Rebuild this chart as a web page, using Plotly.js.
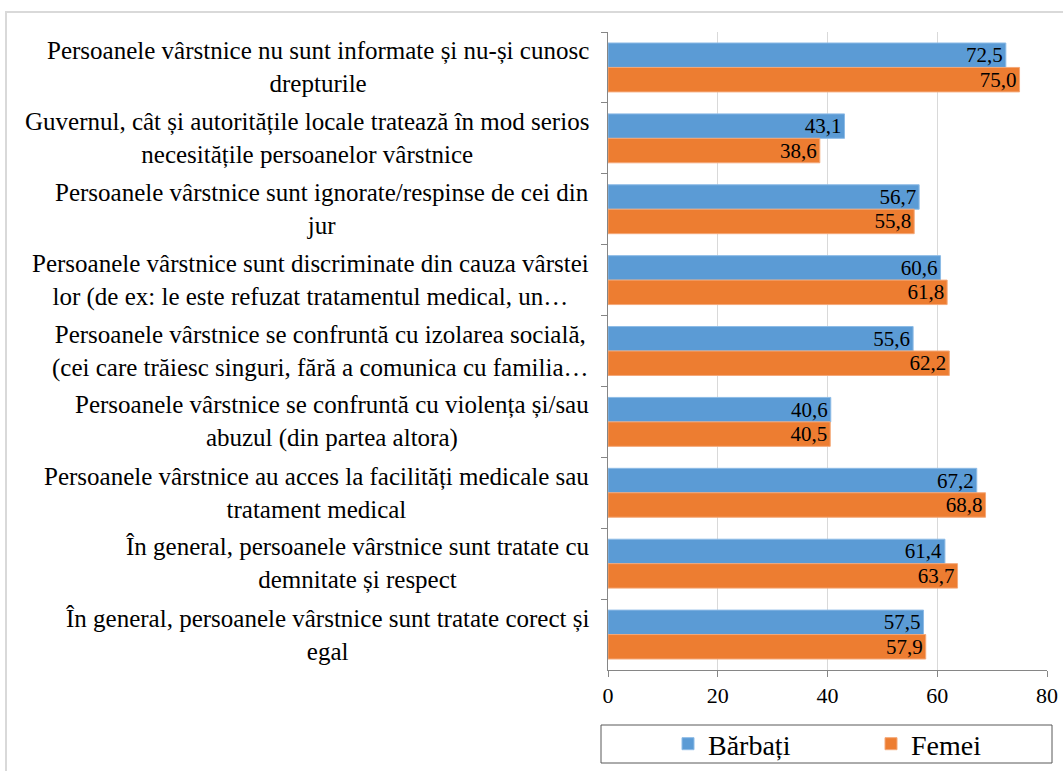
<!DOCTYPE html>
<html>
<head>
<meta charset="utf-8">
<script src="https://cdn.plot.ly/plotly-3.0.1.min.js"></script>
<style>
html,body{margin:0;padding:0;background:#fff;}
#frame{position:absolute;left:5px;top:11px;width:1080px;height:780px;border:2px solid #d9d9d9;box-sizing:border-box;pointer-events:none;}
#chart{position:absolute;left:0;top:0;width:1063px;height:771px;}
</style>
</head>
<body>
<div id="chart"></div>
<div id="frame"></div>
<script>
const categories = [
  "Persoanele vârstnice nu sunt informate și nu-și cunosc<br>drepturile",
  "Guvernul, cât și autoritățile locale tratează în mod serios<br>necesitățile persoanelor vârstnice",
  "Persoanele vârstnice sunt ignorate/respinse de cei din<br>jur",
  "Persoanele vârstnice sunt discriminate din cauza vârstei<br>lor (de ex: le este refuzat tratamentul medical, un…",
  "Persoanele vârstnice se confruntă cu izolarea socială,<br>(cei care trăiesc singuri, fără a comunica cu familia…",
  "Persoanele vârstnice se confruntă cu violența și/sau<br>abuzul (din partea altora)",
  "Persoanele vârstnice au acces la facilități medicale sau<br>tratament medical",
  "În general, persoanele vârstnice sunt tratate cu<br>demnitate și respect",
  "În general, persoanele vârstnice sunt tratate corect și<br>egal"
];
const barbati = [72.5, 43.1, 56.7, 60.6, 55.6, 40.6, 67.2, 61.4, 57.5];
const femei   = [75.0, 38.6, 55.8, 61.8, 62.2, 40.5, 68.8, 63.7, 57.9];
const seriesNames = ["Bărbați", "Femei"];
const xTicks = [0, 20, 40, 60, 80];

const FONT = "Liberation Serif";
const ids = categories.map((c, i) => "c" + i);

const traceCommon = {
  type: "bar",
  orientation: "h",
  textposition: "inside",
  insidetextanchor: "end",
  texttemplate: "%{x:.1f}",
  insidetextfont: {family: FONT, size: 21, color: "#000"},
  constraintext: "none",
  hoverinfo: "none"
};

const data = [
  Object.assign({}, traceCommon, {
    name: seriesNames[0], y: ids, x: barbati,
    marker: {color: "#5b9bd5", line: {color: "#8dbbe6", width: 1}}
  }),
  Object.assign({}, traceCommon, {
    name: seriesNames[1], y: ids, x: femei,
    marker: {color: "#ed7d31", line: {color: "#f4a878", width: 1}}
  })
];

const annotations = categories.map((c, i) => ({
  xref: "paper", yref: "y", x: 0, y: ids[i],
  xanchor: "right", yanchor: "middle", xshift: -17,
  align: "center", showarrow: false,
  text: c,
  font: {family: FONT, size: 25, color: "#000"}
}));

const plotTop = 32, plotBottom = 670, plotLeft = 608, plotRight = 1047;
const ph = plotBottom - plotTop, pw = plotRight - plotLeft;

const layout = {
  width: 1063, height: 771,
  margin: {l: plotLeft, r: 1063 - plotRight, t: plotTop, b: 771 - plotBottom, autoexpand: false},
  paper_bgcolor: "rgba(0,0,0,0)",
  plot_bgcolor: "#fff",
  separators: ",.",
  barmode: "group",
  bargap: 0.31,
  bargroupgap: 0,
  showlegend: true,
  font: {family: FONT, color: "#000"},
  xaxis: {
    range: [0, 80], tickvals: xTicks, ticktext: xTicks.map(String),
    showgrid: true, gridcolor: "#d9d9d9", gridwidth: 1,
    showline: true, linecolor: "#868686", linewidth: 1,
    ticks: "outside", ticklen: 6, tickcolor: "#868686",
    tickfont: {family: FONT, size: 22, color: "#000"},
    zeroline: false, fixedrange: true
  },
  yaxis: {
    type: "category", autorange: "reversed",
    showticklabels: false,
    showline: true, linecolor: "#868686", linewidth: 1,
    ticks: "outside", ticklen: 6, tickcolor: "#868686",
    tickson: "boundaries",
    showgrid: false, zeroline: false, fixedrange: true
  },
  legend: {
    orientation: "h", x: (668 - plotLeft) / pw, xanchor: "left",
    y: (plotBottom - 744) / ph, yanchor: "middle",
    borderwidth: 0,
    font: {family: FONT, size: 28, color: "#000"},
    entrywidth: 158, entrywidthmode: "pixels",
    traceorder: "normal"
  },
  shapes: [{
    type: "rect", xref: "paper", yref: "paper",
    x0: (601 - plotLeft) / pw, x1: (1052 - plotLeft) / pw,
    y0: (plotBottom - 763) / ph, y1: (plotBottom - 725) / ph,
    line: {color: "#595959", width: 1}, fillcolor: "rgba(0,0,0,0)"
  }],
  annotations: annotations
};

Plotly.newPlot("chart", data, layout, {displayModeBar: false, staticPlot: true});
</script>
</body>
</html>
